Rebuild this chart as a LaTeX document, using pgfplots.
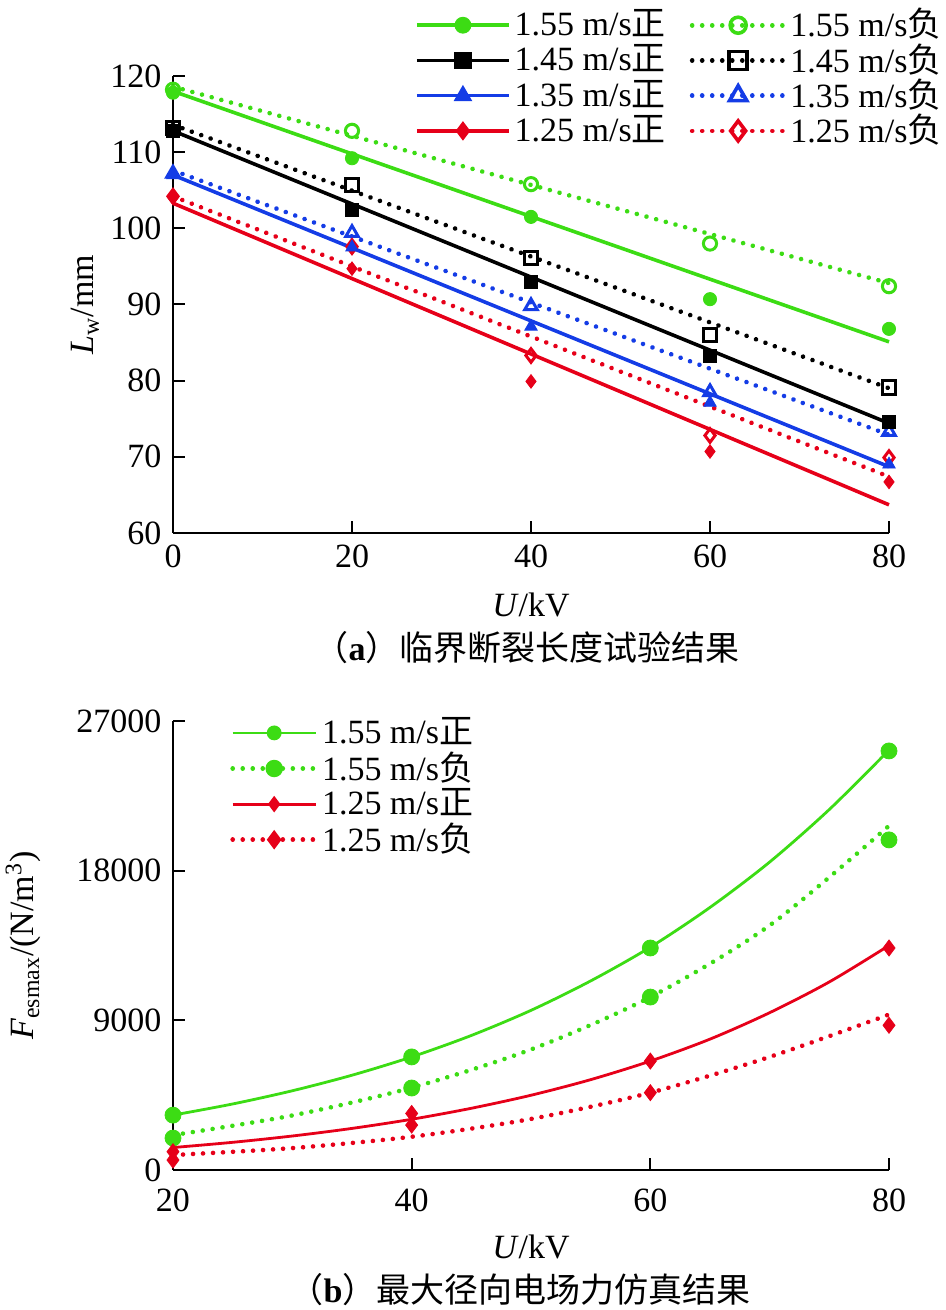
\documentclass[border=0pt]{standalone}
\usepackage{fontspec}
\setmainfont{Liberation Serif}
\newfontfamily\cjk{Noto Sans CJK SC}
\usepackage{pgfplots}
\pgfplotsset{compat=1.18}
\definecolor{cg}{RGB}{60,220,20}
\definecolor{cb}{RGB}{20,60,230}
\definecolor{cr}{RGB}{230,0,25}
\newcommand{\fs}{\fontsize{17}{20}\selectfont}
\begin{document}
\fs
\begin{tikzpicture}
\useasboundingbox (0,0) rectangle (473pt,655pt);
\pgfplotsset{
 base/.style={scale only axis, width=358pt, axis lines=left,
   axis line style={-, line width=1pt}, tick align=inside, major tick length=6pt,
   tick style={line width=1pt, black}, clip=false,
   /pgf/number format/assume math mode=true, /pgf/number format/1000 sep={},
   tick label style={font=\fs}, label style={font=\fs},
   legend cell align=left},
 dotl/.style={dash pattern=on 0.01pt off 5pt, line cap=round, line width=2.3pt},
}
% ---------------- (a) ----------------
\begin{axis}[base, at={(86.5pt,388.5pt)}, anchor=south west, height=228.5pt,
  xmin=0, xmax=80, ymin=60, ymax=120, xtick={0,20,40,60,80}, ytick={60,70,...,120},
  xlabel={\textit{U}/kV}, ylabel={\textit{L}\textsubscript{w}/mm},
  ylabel style={yshift=-6pt}, xlabel style={yshift=-1pt},
  legend columns=2,
  legend image code/.code={\draw[mark repeat=2, mark phase=2, #1] plot coordinates {(0pt,0pt) (23pt,0pt) (46pt,0pt)};},
  legend style={draw=none, fill=none, font=\fs, at={(1.0796,1.1575)}, anchor=north east,
    inner sep=0pt, row sep=-3.2pt, nodes={inner sep=2pt},
    /tikz/every even column/.append style={column sep=10pt}}]
\addplot[cg, line width=1.8pt, forget plot] coordinates {(0,118.0)(80,85.1)};
\addplot[cg, dotl, forget plot] coordinates {(0,118.6)(80,92.8)};
\addplot[black, line width=1.8pt, forget plot] coordinates {(0,112.8)(80,74.4)};
\addplot[black, dotl, forget plot] coordinates {(0,113.6)(80,79.0)};
\addplot[cb, line width=1.8pt, forget plot] coordinates {(0,107.0)(80,68.7)};
\addplot[cb, dotl, forget plot] coordinates {(0,107.6)(80,72.9)};
\addplot[cr, line width=1.8pt, forget plot] coordinates {(0,103.3)(80,63.7)};
\addplot[cr, dotl, forget plot] coordinates {(0,104.2)(80,67.4)};
% markers
\addplot[only marks, cg, mark=o, mark size=3.3pt, mark options={line width=1.5pt, fill=white}, forget plot] coordinates {(0,118.2)(20,112.8)(40,105.8)(60,98.0)(80,92.4)};
\addplot[only marks, black, mark=square, mark size=3.3pt, mark options={line width=1.5pt, fill=white}, forget plot] coordinates {(0,113.2)(20,105.7)(40,96.1)(60,86.0)(80,79.1)};
\addplot[only marks, cb, mark=triangle, mark size=3.6pt, mark options={line width=1.5pt, fill=white}, forget plot] coordinates {(0,107.2)(20,99.4)(40,89.8)(60,78.5)(80,73.3)};
\addplot[only marks, cr, mark=diamond, mark size=3.4pt, mark options={line width=1.5pt, fill=white}, forget plot] coordinates {(0,104.2)(20,97.6)(40,83.3)(60,72.8)(80,69.9)};
\addplot[only marks, cg, mark=*, mark size=3.3pt, forget plot] coordinates {(0,117.8)(20,109.2)(40,101.5)(60,90.7)(80,86.8)};
\addplot[only marks, black, mark=square*, mark size=3.3pt, forget plot] coordinates {(0,112.8)(20,102.4)(40,93.0)(60,83.3)(80,74.6)};
\addplot[only marks, cb, mark=triangle*, mark size=3.6pt, forget plot] coordinates {(0,107.0)(20,97.5)(40,87.1)(60,77.1)(80,69.0)};
\addplot[only marks, cr, mark=diamond*, mark size=3.4pt, forget plot] coordinates {(0,104.0)(20,94.7)(40,79.9)(60,70.7)(80,66.7)};
% legend
\addlegendimage{cg, line width=1.8pt, mark=*, mark size=3.3pt}
\addlegendentry{1.55 m/s{\cjk 正}}
\addlegendimage{cg, dotl, mark=o, mark size=4pt, mark options={solid, line width=1.8pt, fill=white}}
\addlegendentry{1.55 m/s{\cjk 负}}
\addlegendimage{black, line width=1.8pt, mark=square*, mark size=3.5pt}
\addlegendentry{1.45 m/s{\cjk 正}}
\addlegendimage{black, dotl, mark=square, mark size=4.5pt, mark options={solid, line width=1.8pt, fill=white}}
\addlegendentry{1.45 m/s{\cjk 负}}
\addlegendimage{cb, line width=1.8pt, mark=triangle*, mark size=3.6pt}
\addlegendentry{1.35 m/s{\cjk 正}}
\addlegendimage{cb, dotl, mark=triangle, mark size=5pt, mark options={solid, line width=1.8pt, fill=white}}
\addlegendentry{1.35 m/s{\cjk 负}}
\addlegendimage{cr, line width=1.8pt, mark=diamond*, mark size=3.4pt}
\addlegendentry{1.25 m/s{\cjk 正}}
\addlegendimage{cr, dotl, mark=diamond, mark size=5pt, mark options={solid, line width=1.8pt, fill=white}}
\addlegendentry{1.25 m/s{\cjk 负}}
\end{axis}
\node[font=\fs] at (263.5pt,331pt) {{\cjk （}\textbf{a}{\cjk ）临界断裂长度试验结果}};
% ---------------- (b) ----------------
\begin{axis}[base, at={(86.5pt,70pt)}, anchor=south west, height=224.5pt,
  xmin=20, xmax=80, ymin=0, ymax=27000, xtick={20,40,60,80}, ytick={0,9000,18000,27000},
  scaled y ticks=false,
  xticklabel style={yshift=-3.5pt},
  xlabel={\textit{U}/kV}, ylabel={\textit{F}\textsubscript{esmax}/(N/m\textsuperscript{3})},
  ylabel style={yshift=6pt}, xlabel style={yshift=0pt},
  legend image code/.code={\draw[mark repeat=2, mark phase=2, #1] plot coordinates {(0pt,0pt) (20.75pt,0pt) (41.5pt,0pt)};},
  legend style={draw=none, fill=none, font=\fs, at={(0.0796,1.018)}, anchor=north west,
    inner sep=0pt, row sep=-2.4pt, nodes={inner sep=2pt}}]
\addplot[cg, line width=1.4pt, smooth, forget plot] coordinates {(20,3300)(25,3970)(30,4765)(35,5700)(40,6800)(45,8090)(50,9600)(55,11370)(60,13400)(65,15790)(70,18520)(75,21680)(80,25250)};
\addplot[cg, dotl, smooth, forget plot] coordinates {(20,2100)(30,3280)(40,4950)(50,7250)(60,10400)(70,14710)(80,20700)};
\addplot[cr, line width=1.4pt, smooth, forget plot] coordinates {(20,1350)(25,1664)(30,2044)(35,2501)(40,3050)(45,3712)(50,4495)(55,5433)(60,6550)(65,7870)(70,9460)(75,11310)(80,13500)};
\addplot[cr, dotl, smooth, forget plot] coordinates {(20,900)(30,1318)(40,2000)(50,3069)(60,4650)(70,6800)(80,9350)};
\addplot[only marks, cg, mark=*, mark size=4pt, forget plot] coordinates {(20,3300)(40,6800)(60,13350)(80,25200)};
\addplot[only marks, cg, mark=*, mark size=4pt, forget plot] coordinates {(20,1920)(40,4930)(60,10400)(80,19850)};
\addplot[only marks, cr, mark=diamond*, mark size=4pt, forget plot] coordinates {(20,1100)(40,3400)(60,6550)(80,13350)};
\addplot[only marks, cr, mark=diamond*, mark size=4pt, forget plot] coordinates {(20,600)(40,2700)(60,4650)(80,8700)};
\addlegendimage{cg, line width=1.4pt, mark=*, mark size=3pt}
\addlegendentry{1.55 m/s{\cjk 正}}
\addlegendimage{cg, dotl, mark=*, mark size=3.2pt, mark options={solid}}
\addlegendentry{1.55 m/s{\cjk 负}}
\addlegendimage{cr, line width=1.4pt, mark=diamond*, mark size=3pt}
\addlegendentry{1.25 m/s{\cjk 正}}
\addlegendimage{cr, dotl, mark=diamond*, mark size=3pt, mark options={solid}}
\addlegendentry{1.25 m/s{\cjk 负}}
\end{axis}
\node[font=\fs] at (260pt,10pt) {{\cjk （}\textbf{b}{\cjk ）最大径向电场力仿真结果}};
\end{tikzpicture}
\end{document}
